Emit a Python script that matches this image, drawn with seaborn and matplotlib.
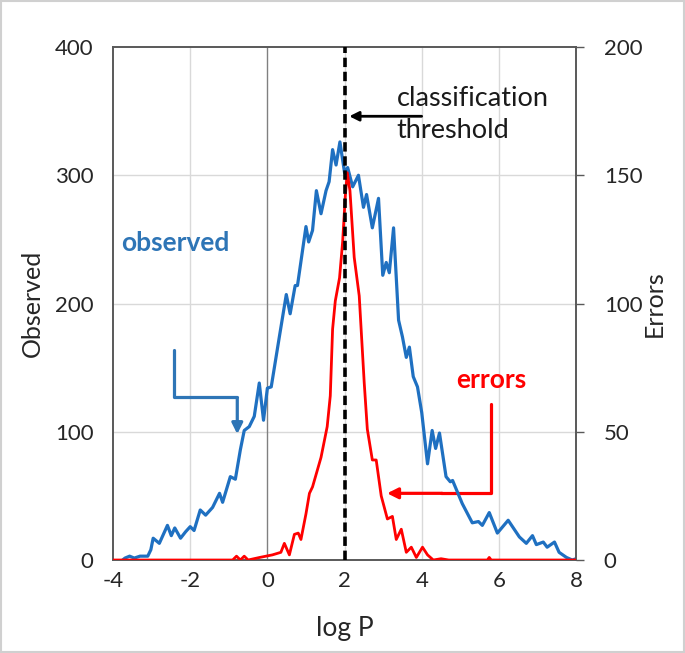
import numpy as np
import pandas as pd
import seaborn as sns
import matplotlib.pyplot as plt
from matplotlib.patches import Rectangle

# ---- data ----
obs_x = [-3.75, -3.69, -3.57, -3.45, -3.3, -3.1, -3.02, -2.96, -2.8, -2.59, -2.49, -2.4,
         -2.25, -2.12, -2.0, -1.9, -1.74, -1.6, -1.42, -1.24, -1.16, -0.96, -0.83, -0.7,
         -0.6, -0.47, -0.34, -0.21, -0.1, 0.0, 0.1, 0.31, 0.49, 0.59, 0.72, 0.78, 1.0,
         1.07, 1.17, 1.27, 1.39, 1.52, 1.6, 1.69, 1.78, 1.88, 1.95, 2.0, 2.08, 2.21, 2.36,
         2.49, 2.57, 2.72, 2.88, 2.99, 3.08, 3.16, 3.27, 3.4, 3.5, 3.6, 3.68, 3.78, 3.89,
         4.0, 4.15, 4.27, 4.36, 4.46, 4.63, 4.74, 4.8, 5.05, 5.31, 5.47, 5.57, 5.75, 5.96,
         6.24, 6.53, 6.71, 6.87, 6.97, 7.15, 7.25, 7.44, 7.56, 7.75, 7.9, 8.0]
obs_y = [0, 1.5, 3, 1.5, 3, 3, 8, 17, 13, 27, 19, 25,
         17, 22, 26, 23, 39, 35, 41, 52, 45, 65, 63, 86,
         101, 104, 112, 138, 109, 134, 135, 174, 207, 192, 214, 214, 260,
         248, 257, 288, 270, 288, 295, 320, 308, 326, 312, 302, 306, 291, 300,
         275, 285, 259, 282, 222, 232, 224, 259, 187, 174, 158, 166, 143, 135,
         115, 75, 101, 87, 99, 65, 61, 62, 44, 29, 30, 27, 37, 21,
         31, 18, 13, 19, 12, 14, 10, 14, 6, 2, 0, 1]

err_x = [-4.0, -0.9, -0.8, -0.7, -0.6, -0.5, -0.2, 0.13, 0.35, 0.44, 0.57, 0.7, 0.8, 0.87,
         1.0, 1.09, 1.17, 1.39, 1.55, 1.63, 1.69, 1.76, 1.87, 1.95, 2.02, 2.07, 2.14, 2.25,
         2.38, 2.51, 2.59, 2.72, 2.82, 2.95, 3.11, 3.24, 3.34, 3.47, 3.6, 3.73, 3.86, 4.02,
         4.15, 4.3, 4.5, 4.7, 5.7, 5.75, 5.8, 8.0]
err_y = [0, 0, 1.5, 0, 1.5, 0, 1, 2, 3, 6.5, 2, 10, 10.5, 8,
         18, 26, 28.5, 40, 52, 64, 90, 101, 110, 124, 142, 151, 144, 118,
         103, 69, 51, 39, 39, 25, 16, 17, 8, 12, 3, 5, 1, 5,
         2, 0, 0.5, 0, 0, 1, 0, 0]

threshold = 2
x_ticks = [-4, -2, 0, 2, 4, 6, 8]
left_ticks = [0, 100, 200, 300, 400]
right_ticks = [0, 50, 100, 150, 200]

blue = '#1F70C1'
red = '#FF0000'
note_blue = '#2E75B6'

sns.set_theme(style='white')
plt.rcParams['font.family'] = ['Lato', 'DejaVu Sans']

fig = plt.figure(figsize=(6.85, 6.53), dpi=100)
ax = fig.add_axes([0.165, 0.1424, 0.676, 0.7856])
ax2 = ax.twinx()

df_obs = pd.DataFrame({'logP': obs_x, 'Observed': obs_y})
df_err = pd.DataFrame({'logP': err_x, 'Errors': err_y})

# grid
for xv in [-2, 2, 4, 6]:
    ax.axvline(xv, color='#D9D9D9', lw=1, zorder=0)
for yv in [100, 200, 300]:
    ax.axhline(yv, color='#D9D9D9', lw=1, zorder=0)
ax.axvline(0, color='#808080', lw=1, zorder=1)

sns.lineplot(data=df_obs, x='logP', y='Observed', ax=ax, color=blue, lw=2.3, zorder=3)
sns.lineplot(data=df_err, x='logP', y='Errors', ax=ax2, color=red, lw=2, zorder=3)
ax2.axvline(threshold, color='black', lw=2.6, ls=(0, (2.6, 1.3)), zorder=5)

ax.set_xlim(-4, 8)
ax.set_ylim(0, 400)
ax2.set_ylim(0, 200)
ax.set_xticks(x_ticks)
ax.set_xticklabels([str(t) for t in x_ticks])
ax.set_yticks(left_ticks)
ax2.set_yticks(right_ticks)

ax.set_xlabel('log P', fontsize=19, labelpad=18)
ax.set_ylabel('Observed', fontsize=18, labelpad=8)
ax2.set_ylabel('Errors', fontsize=18, labelpad=0)

ax.tick_params(axis='both', labelsize=16, length=0)
ax.tick_params(axis='y', pad=14)
ax.tick_params(axis='x', pad=8)
ax2.tick_params(axis='y', labelsize=16, length=6, width=1, color='#595959', direction='out', pad=14)

for a in (ax, ax2):
    for s in a.spines.values():
        s.set_color('#595959')
        s.set_linewidth(1.2)

# annotations
ax.annotate('', xy=(2.05, 346), xytext=(4.07, 346),
            arrowprops=dict(arrowstyle='-|>', color='black', lw=2, mutation_scale=14))
ax.text(3.35, 347, 'classification\nthreshold', fontsize=19.5, color='#1a1a1a',
        ha='left', va='center', linespacing=1.35)

ax.text(-2.38, 247, 'observed', fontsize=19, fontweight='bold', color=note_blue,
        ha='center', va='center')
ax.plot([-2.41, -2.41, -0.78], [164, 127, 127], color=note_blue, lw=2.3)
ax.annotate('', xy=(-0.78, 96), xytext=(-0.78, 128),
            arrowprops=dict(arrowstyle='-|>', color=note_blue, lw=2.3, mutation_scale=16))

ax.text(5.8, 140, 'errors', fontsize=19, fontweight='bold', color=red,
        ha='center', va='center')
ax.plot([5.8, 5.8, 4.5], [122, 52, 52], color=red, lw=2.3)
ax.annotate('', xy=(3.03, 52), xytext=(4.6, 52),
            arrowprops=dict(arrowstyle='-|>', color=red, lw=2.3, mutation_scale=16))

fig.patches.append(Rectangle((0.002, 0.002), 0.996, 0.996, transform=fig.transFigure,
                             fill=False, edgecolor='#D0D0D0', lw=1.5))

fig.savefig('out.png', dpi=100)
